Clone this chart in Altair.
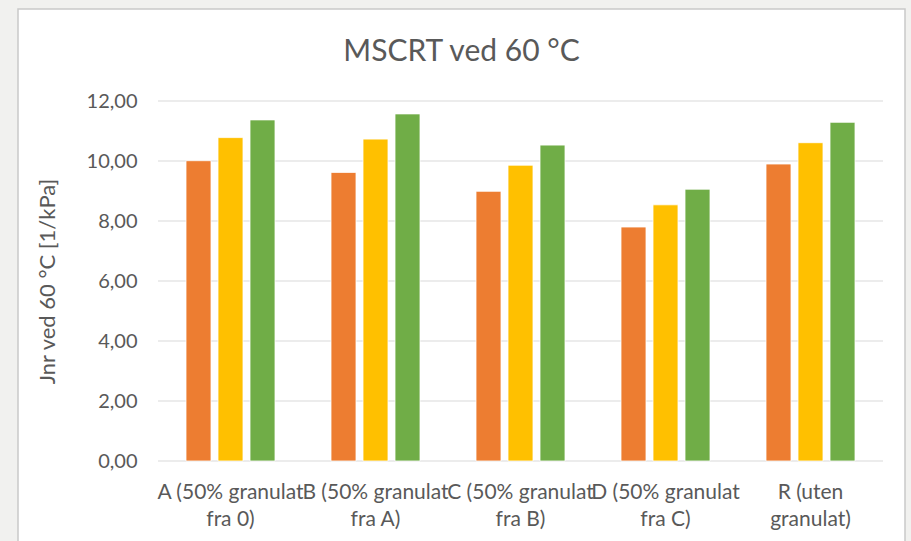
import altair as alt
import pandas as pd

# Categories (two-line labels) and the three measured series
categories = [
    "A (50% granulat\nfra 0)",
    "B (50% granulat\nfra A)",
    "C (50% granulat\nfra B)",
    "D (50% granulat\nfra C)",
    "R (uten\ngranulat)",
]
series = ["Serie 1", "Serie 2", "Serie 3"]
serie1 = [10.01, 9.62, 8.99, 7.80, 9.90]
serie2 = [10.78, 10.73, 9.86, 8.54, 10.61]
serie3 = [11.37, 11.57, 10.53, 9.06, 11.29]
colors = ["#ED7D31", "#FFC000", "#70AD47"]
y_ticks = [0, 2, 4, 6, 8, 10, 12]

rows = []
for s, vals in zip(series, [serie1, serie2, serie3]):
    for c, v in zip(categories, vals):
        rows.append({"kategori": c, "serie": s, "jnr": v})
df = pd.DataFrame(rows)
grid_df = pd.DataFrame({"v": y_ticks})

FONT = "Lato"
TEXT = "#595959"
Y_TITLE = "Jnr ved 60 °C [1/kPa]"

y_scale = alt.Scale(domain=[0, 12], nice=False)

# White chart frame on the page background
frame = alt.Chart(alt.Data(values=[{}])).mark_rect(
    fill="white", stroke="#c9c9c9", strokeWidth=1.5
).encode(
    x=alt.value(-140), x2=alt.value(747), y=alt.value(-92), y2=alt.value(460)
)

y_axis = alt.Axis(
    values=y_ticks,
    labelExpr="replace(format(datum.value, '.2f'), '.', ',')",
    labelPadding=21,
    labelFontSize=20,
    ticks=False,
    domain=False,
    grid=False,
    titleX=-111,
    titleY=180,
    titleAngle=-90,
    titleAlign="center",
    titleBaseline="middle",
    titleFontSize=22,
    zindex=1,
)

# Horizontal gridlines at the tick values
grid = alt.Chart(grid_df).mark_rule(color="#d9d9d9", strokeWidth=1).encode(
    y=alt.Y("v:Q", scale=y_scale, title=Y_TITLE, axis=y_axis)
)

bars = alt.Chart(df).mark_bar(stroke="white", strokeWidth=0.8).encode(
    x=alt.X(
        "kategori:N",
        sort=categories,
        title=None,
        scale=alt.Scale(paddingInner=49 / 145, paddingOuter=49 / 290),
        axis=alt.Axis(
            labelAngle=0,
            labelExpr="split(datum.label, '\\n')",
            labelPadding=20,
            labelFontSize=21,
            labelLineHeight=27,
            labelOverlap=False,
            labelLimit=0,
            ticks=False,
            domain=False,
            grid=False,
            zindex=1,
        ),
    ),
    xOffset=alt.XOffset(
        "serie:N",
        sort=series,
        scale=alt.Scale(paddingInner=7 / 32, paddingOuter=3.5 / 32),
    ),
    y=alt.Y("jnr:Q", scale=y_scale, title=Y_TITLE, axis=y_axis),
    color=alt.Color(
        "serie:N", sort=series, scale=alt.Scale(domain=series, range=colors), legend=None
    ),
)

chart = (
    alt.layer(frame, grid, bars)
    .properties(
        width=725,
        height=360,
        autosize="none",
        padding={"left": 158, "top": 101, "right": 28, "bottom": 80},
        background="#f1f1ef",
        title=alt.Title(
            "MSCRT ved 60 °C",
            font=FONT,
            fontSize=30,
            fontWeight="normal",
            color=TEXT,
            anchor="middle",
            dx=-59,
            dy=83,
            offset=0,
            baseline="alphabetic",
            zindex=1,
        ),
    )
    .configure_axis(
        labelFont=FONT,
        labelColor=TEXT,
        titleFont=FONT,
        titleFontWeight="normal",
        titleColor=TEXT,
    )
    .configure_view(stroke=None)
)

chart.save("out.html", embed_options={"renderer": "svg", "actions": False})
